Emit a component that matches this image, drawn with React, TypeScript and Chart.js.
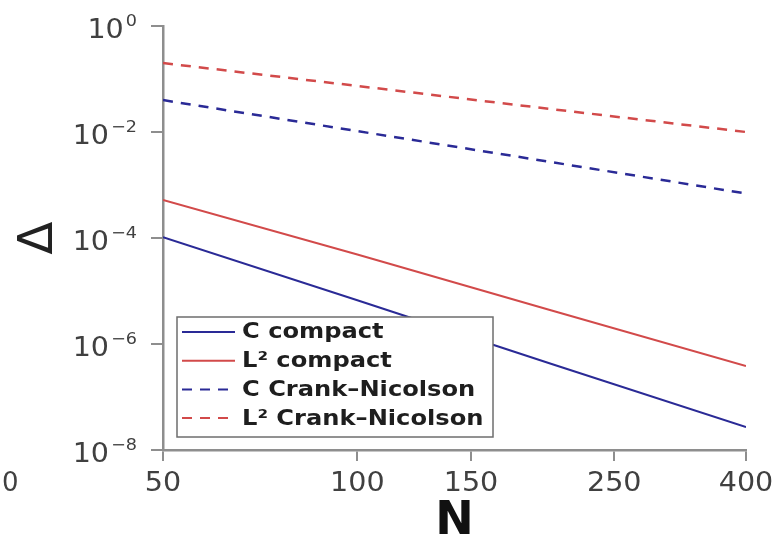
import React, { useEffect, useRef } from "react";
import { Chart, registerables } from "chart.js";

Chart.register(...registerables);

// Grid sizes N and the measured error Δ for each scheme / norm
const N_VALUES = [50, 100, 200, 400];
const C_COMPACT = [1.03e-4, 6.7e-6, 4.2e-7, 2.7e-8];
const L2_COMPACT = [5.2e-4, 4.9e-5, 4.3e-6, 3.85e-7];
const C_CRANK_NICOLSON = [4.0e-2, 1.04e-2, 2.7e-3, 6.9e-4];
const L2_CRANK_NICOLSON = [2.0e-1, 7.4e-2, 2.7e-2, 1.0e-2];

const SERIES_LABELS = ["C compact", "L\u00B2 compact", "C Crank\u2013Nicolson", "L\u00B2 Crank\u2013Nicolson"];

// Axis ticks
const X_TICKS = [50, 100, 150, 250, 400];
const Y_EXPONENTS = [0, -2, -4, -6, -8];

const BLUE = "#2a2a96";
const RED = "#d24a4a";
const AXIS_GREY = "#8e8e8e";
const FONT = "'DejaVu Sans', sans-serif";
const TEXT_STRETCH = 1.1;

function drawStretched(
  ctx: CanvasRenderingContext2D,
  text: string,
  x: number,
  y: number,
  align: "left" | "right" | "center",
  stretch: number
) {
  ctx.save();
  ctx.textAlign = "left";
  const w = ctx.measureText(text).width * stretch;
  const left = align === "left" ? x : align === "right" ? x - w : x - w / 2;
  ctx.translate(left, y);
  ctx.scale(stretch, 1);
  ctx.fillText(text, 0, 0);
  ctx.restore();
}

// Tick labels: plain numbers on N, powers of ten with raised exponents on Δ
const tickLabelPlugin = {
  id: "tickLabels",
  afterDraw(chart: any) {
    const ctx: CanvasRenderingContext2D = chart.ctx;
    const xs = chart.scales.x;
    const ys = chart.scales.y;
    const area = chart.chartArea;
    ctx.save();
    ctx.fillStyle = "#404040";
    ctx.textBaseline = "middle";

    ctx.font = `26px ${FONT}`;
    X_TICKS.forEach((v) => {
      drawStretched(ctx, String(v), xs.getPixelForValue(v), area.bottom + 34, "center", TEXT_STRETCH);
    });

    const right = area.left - 26;
    Y_EXPONENTS.forEach((e) => {
      const py = ys.getPixelForValue(Math.pow(10, e));
      const expText = e === 0 ? "0" : "\u2212" + Math.abs(e);
      ctx.font = `16px ${FONT}`;
      const ew = ctx.measureText(expText).width * TEXT_STRETCH;
      drawStretched(ctx, expText, right, py - 4, "right", TEXT_STRETCH);
      ctx.font = `26px ${FONT}`;
      drawStretched(ctx, "10", right - ew - 2, py + 5, "right", TEXT_STRETCH);
    });
    ctx.restore();
  },
};

// Boxed legend in the lower-left corner of the plot area
const boxLegendPlugin = {
  id: "boxLegend",
  afterDatasetsDraw(chart: any) {
    const ctx: CanvasRenderingContext2D = chart.ctx;
    const area = chart.chartArea;
    const left = area.left + 14;
    const top = area.bottom - 133;
    const width = 316;
    const height = 120;
    ctx.save();
    ctx.fillStyle = "#ffffff";
    ctx.fillRect(left, top, width, height);
    ctx.strokeStyle = "#6e6e6e";
    ctx.lineWidth = 1.5;
    ctx.strokeRect(left, top, width, height);

    ctx.font = `bold 21px ${FONT}`;
    ctx.textBaseline = "middle";
    chart.data.datasets.forEach((ds: any, i: number) => {
      const cy = top + 15 + i * 28.7;
      ctx.beginPath();
      ctx.setLineDash(ds.borderDash || []);
      ctx.strokeStyle = ds.borderColor;
      ctx.lineWidth = 2;
      ctx.moveTo(left + 5, cy);
      ctx.lineTo(left + 58, cy);
      ctx.stroke();
      ctx.setLineDash([]);
      ctx.fillStyle = "#1e1e1e";
      drawStretched(ctx, ds.label, left + 65, cy + 1, "left", 1.15);
    });
    ctx.restore();
  },
};

function series(values: number[]) {
  return N_VALUES.map((n, i) => ({ x: n, y: values[i] }));
}

export default function App() {
  const canvasRef = useRef<HTMLCanvasElement | null>(null);

  useEffect(() => {
    if (!canvasRef.current) return;
    const chart = new Chart(canvasRef.current, {
      type: "line",
      data: {
        datasets: [
          { label: SERIES_LABELS[0], data: series(C_COMPACT), borderColor: BLUE, borderWidth: 2, pointRadius: 0, fill: false },
          { label: SERIES_LABELS[1], data: series(L2_COMPACT), borderColor: RED, borderWidth: 2, pointRadius: 0, fill: false },
          { label: SERIES_LABELS[2], data: series(C_CRANK_NICOLSON), borderColor: BLUE, borderWidth: 2.5, borderDash: [10, 8], pointRadius: 0, fill: false },
          { label: SERIES_LABELS[3], data: series(L2_CRANK_NICOLSON), borderColor: RED, borderWidth: 2.5, borderDash: [10, 8], pointRadius: 0, fill: false },
        ],
      },
      options: {
        animation: false,
        responsive: true,
        maintainAspectRatio: false,
        layout: { padding: { top: 26, right: 31, left: 0, bottom: 0 } },
        plugins: { legend: { display: false }, tooltip: { enabled: false } },
        elements: { line: { tension: 0 } },
        scales: {
          x: {
            type: "logarithmic",
            min: 50,
            max: 400,
            afterBuildTicks: (s: any) => {
              s.ticks = X_TICKS.map((v) => ({ value: v }));
            },
            afterFit: (s: any) => {
              s.height = 92;
            },
            ticks: { display: false },
            grid: { drawOnChartArea: false, drawTicks: true, tickLength: 11, color: AXIS_GREY, lineWidth: 2 },
            border: { display: true, color: AXIS_GREY, width: 2.5 },
            title: {
              display: true,
              text: "N",
              color: "#111111",
              font: { family: FONT, size: 46, weight: "bold", lineHeight: 0.87 },
              padding: { top: 0, bottom: 0 },
            },
          },
          y: {
            type: "logarithmic",
            min: 1e-8,
            max: 1,
            afterBuildTicks: (s: any) => {
              s.ticks = Y_EXPONENTS.map((e) => ({ value: Math.pow(10, e) }));
            },
            afterFit: (s: any) => {
              s.width = 163;
            },
            ticks: { display: false },
            grid: { drawOnChartArea: false, drawTicks: true, tickLength: 12, color: AXIS_GREY, lineWidth: 2 },
            border: { display: true, color: AXIS_GREY, width: 2.5 },
            title: {
              display: true,
              text: "\u0394",
              color: "#222222",
              font: { family: FONT, size: 48, weight: "normal", lineHeight: 1 },
              padding: { top: 16, bottom: 0 },
            },
          },
        },
      } as any,
      plugins: [tickLabelPlugin, boxLegendPlugin],
    });
    return () => chart.destroy();
  }, []);

  return (
    <div style={{ position: "fixed", left: 0, top: 0, width: 777, height: 542, background: "#ffffff" }}>
      <canvas ref={canvasRef} />
      <span
        style={{
          position: "absolute",
          left: 2,
          top: 467,
          font: `26px ${FONT}`,
          color: "#404040",
        }}
      >
        0
      </span>
    </div>
  );
}
